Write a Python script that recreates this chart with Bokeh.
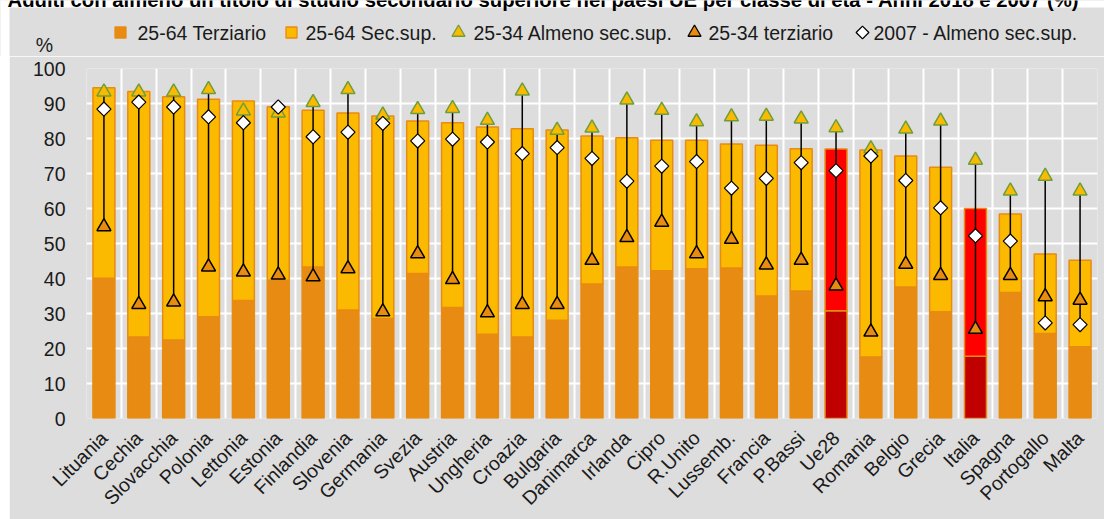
import math
import numpy as np
from bokeh.plotting import figure
from bokeh.layouts import column, row
from bokeh.models import ColumnDataSource, FixedTicker, Range1d, Spacer
from bokeh.core.properties import value
from bokeh.embed import file_html
from bokeh.resources import INLINE

# ---------------- data ----------------
title = ("Adulti con almeno un titolo di studio secondario superiore nei paesi UE "
         "per classe di età - Anni 2018 e 2007 (%)")
countries = ["Lituania", "Cechia", "Slovacchia", "Polonia", "Lettonia", "Estonia",
             "Finlandia", "Slovenia", "Germania", "Svezia", "Austria", "Ungheria",
             "Croazia", "Bulgaria", "Danimarca", "Irlanda", "Cipro", "R.Unito",
             "Lussemb.", "Francia", "P.Bassi", "Ue28", "Romania", "Belgio", "Grecia",
             "Italia", "Spagna", "Portogallo", "Malta"]

terziario_25_64 = [40.1, 23.3, 22.4, 29.1, 33.7, 39.5, 43.3, 31.0, 28.6, 41.4, 31.7, 24.1,
                   23.3, 28.1, 38.4, 43.3, 42.2, 42.8, 43.0, 35.0, 36.4, 30.8, 17.6, 37.6,
                   30.5, 17.8, 36.0, 24.3, 20.5]
sec_sup_25_64 = [54.4, 70.1, 69.5, 62.1, 57.0, 49.6, 44.8, 56.3, 57.8, 43.6, 52.8, 59.2,
                 59.5, 54.3, 42.3, 36.9, 37.3, 36.7, 35.4, 43.1, 40.7, 46.2, 59.1, 37.4,
                 41.3, 42.2, 22.4, 22.7, 24.7]
almeno_sec_25_34 = [93.3, 93.3, 93.3, 94.0, 87.9, 87.3, 90.3, 94.0, 86.7, 88.3, 88.6, 85.2,
                    93.6, 82.4, 83.0, 91.0, 88.1, 84.8, 86.2, 86.4, 85.6, 83.1, 77.1, 82.7,
                    85.0, 73.8, 65.0, 69.2, 65.0]
terziario_25_34 = [54.8, 32.6, 33.3, 43.3, 41.9, 41.0, 40.5, 42.8, 30.5, 47.1, 39.7, 30.2,
                   32.6, 32.6, 45.2, 51.7, 56.1, 47.1, 51.2, 43.9, 45.2, 37.9, 24.7, 44.1,
                   40.9, 25.5, 40.9, 34.8, 33.8]
almeno_sec_2007 = [88.4, 90.4, 89.0, 86.2, 84.5, 89.0, 80.5, 81.8, 84.3, 79.3, 79.8, 79.0,
                   75.7, 77.4, 74.3, 67.8, 72.1, 73.4, 65.8, 68.6, 73.1, 70.8, 75.0, 68.0,
                   60.2, 52.2, 50.7, 27.3, 26.8]

y_ticks = list(range(0, 101, 10))
unit_label = "%"
legend_labels = ["25-64 Terziario", "25-64 Sec.sup.", "25-34 Almeno sec.sup.",
                 "25-34 terziario", "2007 - Almeno sec.sup."]
highlight = ["Ue28", "Italia"]

# ---------------- styles ----------------
FONT = "Liberation Sans"
FS = "19.5px"
BG = "#DDDDDD"
ORANGE = "#E88B12"
YELLOW = "#FBBA00"
RED = "#FF0000"
DARKRED = "#C00000"
GREEN = "#6E9E3C"
TXT = "#1A1A1A"

W, H = 1104, 519
TOP_H = 56

# ================= header figure (legend, unit, clipped title) =================
top = figure(width=W, height=TOP_H, output_backend="svg", toolbar_location=None,
             x_range=Range1d(0, W), y_range=Range1d(TOP_H, 0),
             x_axis_type=None, y_axis_type=None, min_border=0)
top.background_fill_color = BG
top.border_fill_color = BG
top.outline_line_color = None
top.grid.visible = False

# white page strip behind the (cut-off) title and on the left
top.quad(left=[0, 0], right=[W, 9], top=[0, 0], bottom=[7, TOP_H],
         fill_color="white", line_color=None)
top.text(x=[7], y=[-1], text=[title], text_font=value(FONT), text_font_size="20.3px",
         text_font_style="bold", text_color="black", text_baseline="alphabetic",
         text_align="left")

top.text(x=[44], y=[44], text=[unit_label], text_font=value(FONT), text_font_size=FS,
         text_color=TXT, text_align="center", text_baseline="middle")

LY = 32
leg_marker_x = [120, 291, 458, 694, 862]
leg_text_x = [137, 305, 473, 708, 873]
leg_style = [
    dict(marker="square", size=11, angle=0.0, fill=ORANGE, line=ORANGE),
    dict(marker="square", size=11, angle=0.0, fill=YELLOW, line=ORANGE),
    dict(marker="triangle", size=13, angle=0.0, fill=YELLOW, line=GREEN),
    dict(marker="triangle", size=13, angle=0.0, fill=ORANGE, line="black"),
    dict(marker="square", size=9, angle=math.pi / 4, fill="white", line="black"),
]
for mx, st in zip(leg_marker_x, leg_style):
    top.scatter(x=[mx], y=[LY], marker=st["marker"], size=st["size"], angle=st["angle"],
                fill_color=st["fill"], line_color=st["line"], line_width=1.3)
top.text(x=leg_text_x, y=[LY] * len(legend_labels), text=legend_labels,
         text_font=value(FONT), text_font_size=FS, text_color=TXT,
         text_align="left", text_baseline="middle")

# ================= main chart =================
n = len(countries)
xs = list(range(1, n + 1))
terz = np.array(terziario_25_64)
sec = np.array(sec_sup_25_64)
g = np.array(almeno_sec_25_34)
o = np.array(terziario_25_34)
d = np.array(almeno_sec_2007)

src = ColumnDataSource(dict(
    x=xs,
    terz=terz,
    top=terz + sec,
    g=g, o=o, d=d,
    hi=np.maximum(np.maximum(g, o), d),
    lo=np.minimum(np.minimum(g, o), d),
    c_low=[DARKRED if c in highlight else ORANGE for c in countries],
    c_up=[RED if c in highlight else YELLOW for c in countries],
))

MAIN_W = W - 9
MAIN_H = H - TOP_H
p = figure(width=MAIN_W, height=MAIN_H, output_backend="svg", toolbar_location=None,
           x_range=Range1d(0.5, n + 0.5), y_range=Range1d(0, 100),
           min_border_left=77, min_border_right=7, min_border_top=12,
           min_border_bottom=101)
p.background_fill_color = BG
p.border_fill_color = BG
p.outline_line_color = None

p.xgrid.ticker = FixedTicker(ticks=[i + 0.5 for i in range(0, n + 1)])
p.ygrid.ticker = FixedTicker(ticks=y_ticks)
for gr in (p.xgrid, p.ygrid):
    gr.grid_line_color = "white"
    gr.grid_line_width = 2

p.yaxis.ticker = FixedTicker(ticks=y_ticks)
p.xaxis.ticker = FixedTicker(ticks=xs)
p.xaxis.major_label_overrides = {x: c for x, c in zip(xs, countries)}
p.xaxis.major_label_orientation = math.pi / 4
for ax in (p.xaxis, p.yaxis):
    ax.axis_line_color = None
    ax.major_tick_line_color = None
    ax.minor_tick_line_color = None
    ax.major_tick_out = 0
    ax.major_tick_in = 0
    ax.major_label_text_font = FONT
    ax.major_label_text_font_size = FS
    ax.major_label_text_color = TXT
p.yaxis.major_label_standoff = 21
p.xaxis.major_label_standoff = 16

p.vbar(x="x", bottom=0, top="terz", width=0.63, source=src,
       fill_color="c_low", line_color=ORANGE, line_width=1.5)
p.vbar(x="x", bottom="terz", top="top", width=0.63, source=src,
       fill_color="c_up", line_color=ORANGE, line_width=1.5)

p.segment(x0="x", y0="hi", x1="x", y1="lo", source=src, line_color="black", line_width=1.5)

p.scatter(x="x", y="g", source=src, marker="triangle", size=14,
          fill_color=YELLOW, line_color=GREEN, line_width=1.5)
p.scatter(x="x", y="o", source=src, marker="triangle", size=14,
          fill_color=ORANGE, line_color="black", line_width=1.5)
p.scatter(x="x", y="d", source=src, marker="square", size=10, angle=math.pi / 4,
          fill_color="white", line_color="black", line_width=1.2)

layout = column(top, row(Spacer(width=9, height=MAIN_H), p), spacing=0)

open("out.html", "w").write(file_html(layout, INLINE))
